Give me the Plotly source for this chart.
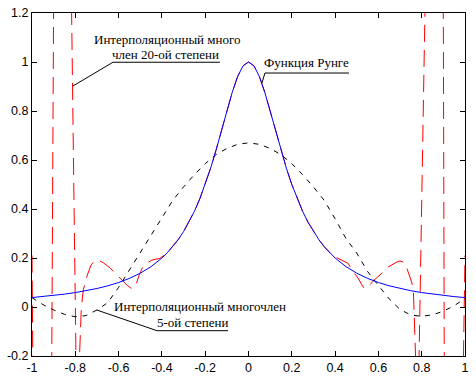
import plotly.graph_objects as go

# Runge function 1/(1+25x^2)
runge_x = [-1.0, -0.95, -0.9, -0.85, -0.8, -0.75, -0.7, -0.65, -0.6, -0.55, -0.5, -0.45,
           -0.4, -0.375, -0.35, -0.325, -0.3, -0.275, -0.25, -0.225, -0.2, -0.175, -0.15,
           -0.125, -0.1, -0.075, -0.05, -0.025, 0.0, 0.025, 0.05, 0.075, 0.1, 0.125, 0.15,
           0.175, 0.2, 0.225, 0.25, 0.275, 0.3, 0.325, 0.35, 0.375, 0.4,
           0.45, 0.5, 0.55, 0.6, 0.65, 0.7, 0.75, 0.8, 0.85, 0.9, 0.95, 1.0]
runge_y = [0.0385, 0.0424, 0.0471, 0.0525, 0.0588, 0.0664, 0.0755, 0.0865, 0.1, 0.1168, 0.1379, 0.1649,
           0.2, 0.2215, 0.2462, 0.2747, 0.3077, 0.3459, 0.3902, 0.4414, 0.5, 0.5664, 0.64,
           0.7191, 0.8, 0.8767, 0.9412, 0.9846, 1.0, 0.9846, 0.9412, 0.8767, 0.8, 0.7191, 0.64,
           0.5664, 0.5, 0.4414, 0.3902, 0.3459, 0.3077, 0.2747, 0.2462, 0.2215, 0.2,
           0.1649, 0.1379, 0.1168, 0.1, 0.0865, 0.0755, 0.0664, 0.0588, 0.0525, 0.0471, 0.0424, 0.0385]

# Degree-5 interpolation polynomial (black dashed)
p5_x = [-1.0, -0.95, -0.9, -0.85, -0.8, -0.75, -0.7, -0.65, -0.6, -0.55, -0.5, -0.45, -0.4,
        -0.35, -0.3, -0.25, -0.2, -0.15, -0.1, -0.05, 0.0, 0.05, 0.1, 0.15, 0.2, 0.25, 0.3,
        0.35, 0.4, 0.45, 0.5, 0.55, 0.6, 0.65, 0.7, 0.75, 0.8, 0.85, 0.9, 0.95, 1.0]
p5_y = [0.038, 0.01, -0.012, -0.03, -0.04, -0.035, -0.012, 0.018, 0.08, 0.15, 0.22, 0.29, 0.36,
        0.435, 0.49, 0.54, 0.585, 0.622, 0.647, 0.664, 0.67, 0.664, 0.647, 0.622, 0.585, 0.54, 0.49,
        0.435, 0.36, 0.28, 0.22, 0.145, 0.088, 0.033, -0.01, -0.033, -0.038, -0.032, -0.017, 0.005, 0.035]

# Degree-20 interpolation polynomial (red dashed); values beyond the axes are off-chart estimates
p20_left_x = [-1.0, -0.993, -0.985, -0.911, -0.898, -0.82, -0.795, -0.789, -0.782, -0.772,
              -0.763, -0.755, -0.747, -0.728, -0.709, -0.69, -0.67, -0.64, -0.617, -0.584,
              -0.56, -0.538, -0.52, -0.505, -0.49, -0.47, -0.45, -0.43, -0.41]
p20_left_y = [0.21, -0.2, -1.5, -0.6, 1.6, 1.41, -0.34, -0.4, -0.2, 0.0,
              0.07, 0.097, 0.124, 0.17, 0.192, 0.19, 0.18, 0.16, 0.139, 0.11,
              0.088, 0.074, 0.09, 0.13, 0.16, 0.178, 0.19, 0.195, 0.198]
p20_right_x = [0.4, 0.44, 0.46, 0.483, 0.506, 0.529, 0.54, 0.555, 0.575, 0.617, 0.645,
               0.686, 0.7, 0.723, 0.737, 0.755, 0.762, 0.768, 0.777, 0.781, 0.786, 0.819,
               0.86, 0.899, 0.905, 0.95, 0.986, 0.993, 1.0]
p20_right_y = [0.205, 0.185, 0.178, 0.145, 0.118, 0.082, 0.075, 0.085, 0.105, 0.139, 0.163,
               0.184, 0.188, 0.18, 0.143, 0.098, 0.057, -0.1, -0.4, -0.45, -0.3, 1.41,
               3.0, 1.5, -0.5, -3.0, -1.5, -0.2, 0.21]

x_ticks = [-1, -0.8, -0.6, -0.4, -0.2, 0, 0.2, 0.4, 0.6, 0.8, 1]
x_tick_labels = ["-1", "-0.8", "-0.6", "-0.4", "-0.2", "0", "0.2", "0.4", "0.6", "0.8", "1"]
y_ticks = [-0.2, 0, 0.2, 0.4, 0.6, 0.8, 1.0, 1.2]
y_tick_labels = ["-0.2", "0", "0.2", "0.4", "0.6", "0.8", "1", "1.2"]

# red center part coincides with the Runge function
center = [(x, y) for x, y in zip(runge_x, runge_y) if -0.38 < x < 0.38]
p20_x = p20_left_x + [c[0] for c in center] + p20_right_x
p20_y = p20_left_y + [c[1] for c in center] + p20_right_y

fig = go.Figure()
fig.add_trace(go.Scatter(x=p20_x, y=p20_y, mode="lines",
                         line=dict(color="#ff0000", width=1, dash="17px,8px")))
fig.add_trace(go.Scatter(x=p5_x, y=p5_y, mode="lines",
                         line=dict(color="#000000", width=1, dash="5px,6px")))
fig.add_trace(go.Scatter(x=runge_x, y=runge_y, mode="lines",
                         line=dict(color="#0000ff", width=1)))

tfont = dict(family="Liberation Serif", size=13, color="black")
ann = [
    dict(x=-0.374, y=1.090, text="Интерполяционный много"),
    dict(x=-0.383, y=1.029, text="член 20-ой степени"),
    dict(x=0.270, y=0.996, text="Функция Рунге"),
    dict(x=-0.222, y=0.001, text="Интерполяционный многочлен"),
    dict(x=-0.259, y=-0.0625, text="5-ой степени"),
]
for a in ann:
    a.update(xref="x", yref="y", showarrow=False, xanchor="center", yanchor="middle", font=tfont)

lines = [
    (-0.626, 0.999, -0.132, 0.999), (-0.626, 0.999, -0.811, 0.902),
    (0.076, 0.955, 0.464, 0.955), (0.076, 0.955, 0.062, 0.914),
    (-0.4226, -0.0967, -0.0947, -0.0967), (-0.4226, -0.0967, -0.701, -0.0122),
]
shapes = [dict(type="line", xref="x", yref="y", x0=a, y0=b, x1=c, y1=d,
               line=dict(color="black", width=1)) for a, b, c, d in lines]

axis_common = dict(showgrid=False, zeroline=False, showline=True, linecolor="black", linewidth=1,
                   mirror="ticks", ticks="inside", ticklen=5, tickcolor="black", tickwidth=1,
                   automargin=False,
                   tickfont=dict(family="Liberation Sans", size=12.5, color="black"))
fig.update_layout(
    width=476, height=377, margin=dict(l=32, r=11, t=13, b=21, autoexpand=False),
    paper_bgcolor="white", plot_bgcolor="white", showlegend=False,
    xaxis=dict(range=[-1, 1], tickvals=x_ticks, ticktext=x_tick_labels, **axis_common),
    yaxis=dict(range=[-0.2, 1.2], tickvals=y_ticks, ticktext=y_tick_labels, **axis_common),
    annotations=ann, shapes=shapes,
)
fig.write_html("out.html", config={"displayModeBar": False},
               post_script="document.body.style.margin='0';document.body.style.overflow='hidden';")
